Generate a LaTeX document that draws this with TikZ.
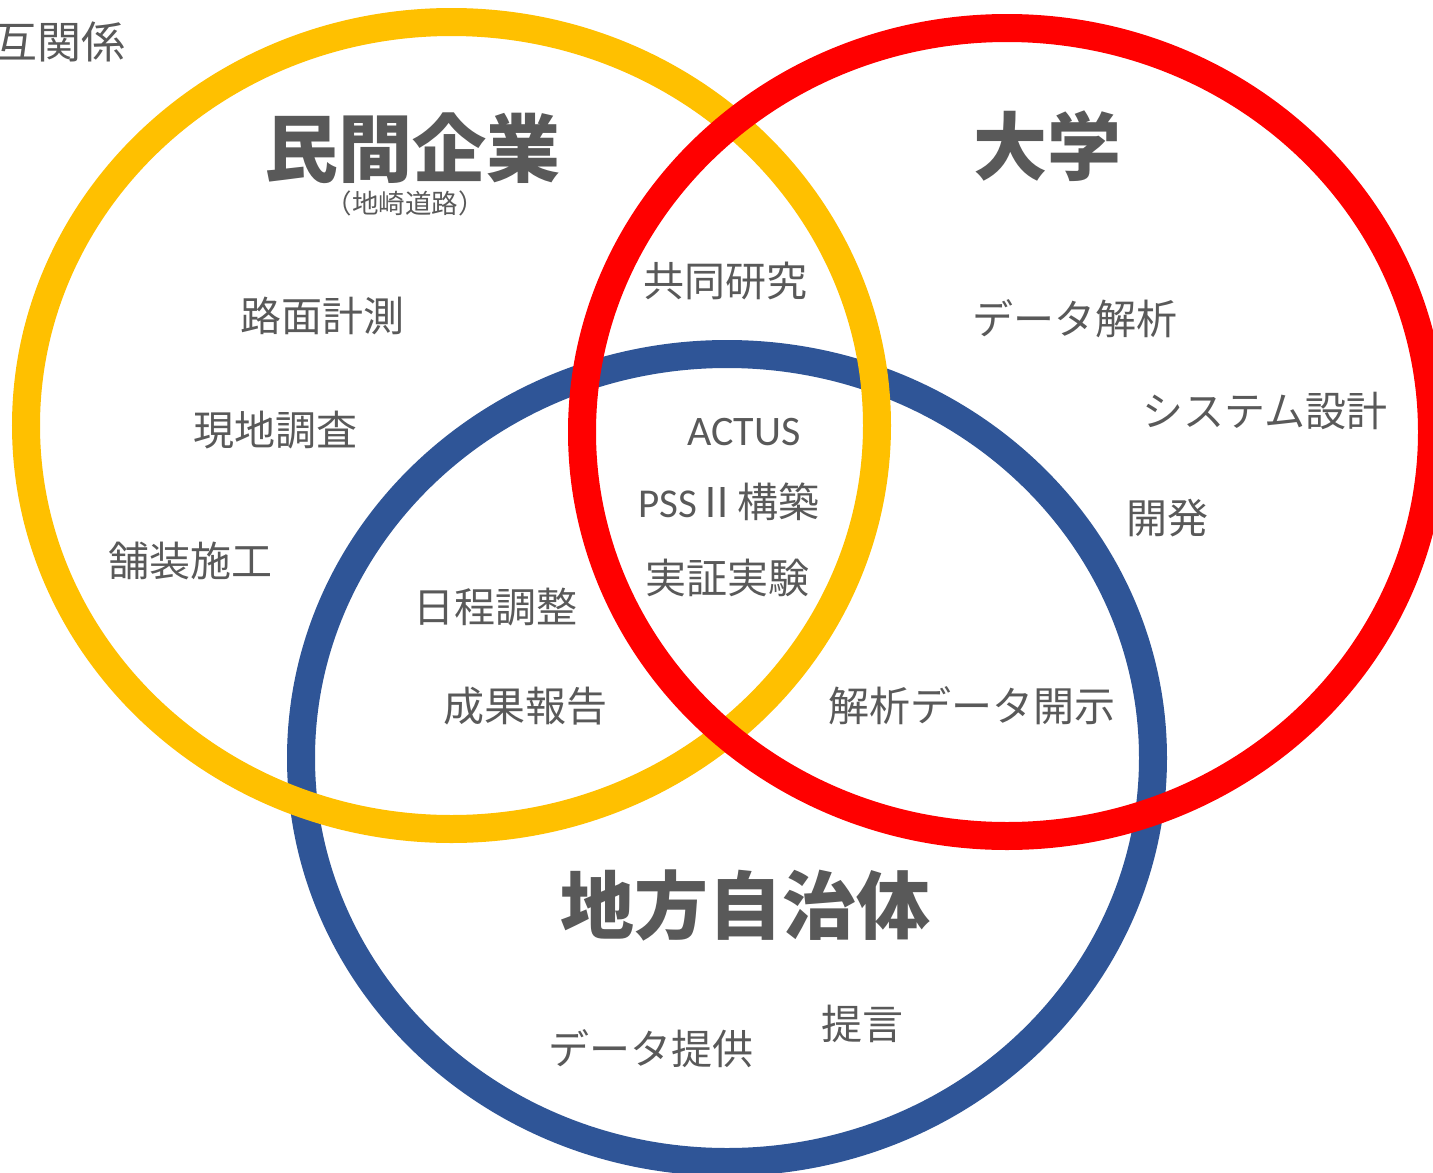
\documentclass[tikz,border=0pt]{standalone}
\usepackage{fontspec}
\setmainfont{Noto Sans CJK JP}
\newfontfamily\latfont{Carlito}
\definecolor{cyellow}{HTML}{FFC000}
\definecolor{cred}{HTML}{FF0000}
\definecolor{cblue}{HTML}{2F5597}
\definecolor{ctext}{HTML}{595959}
\begin{document}
\begin{tikzpicture}[x=1pt,y=-1pt,
  ring/.style={line width=28pt},
  title/.style={text=ctext,inner sep=0pt,font=\fontsize{74}{80}\selectfont\bfseries},
  body/.style={text=ctext,inner sep=0pt,font=\fontsize{41}{46}\selectfont},
  small/.style={text=ctext,inner sep=0pt,font=\fontsize{26.5}{30}\selectfont}]
\useasboundingbox (0,0) rectangle (1433,1173);
\clip (0,0) rectangle (1433,1173);
\fill[white] (0,0) rectangle (1433,1173);
% rings: blue lowest, yellow, red on top
\draw[ring,cblue] (727,758) ellipse [x radius=426, y radius=404];
\draw[ring,cyellow] (451.5,425.5) ellipse [x radius=425.5, y radius=403.5];
\draw[ring,cred] (1007,432) ellipse [x radius=425, y radius=404];
% labels
\node[body,font=\fontsize{44}{48}\selectfont,anchor=east] (rel) at (126,42) {互関係};
\node[title] (company) at (412,148) {民間企業};
\node[small] (chizaki) at (405,203) {（地崎道路）};
\node[title] (univ) at (1047,146) {大学};
\node[title] (local) at (745,905) {地方自治体};
\node[body] (t1) at (322,316) {路面計測};
\node[body] (t2) at (275,430) {現地調査};
\node[body] (t3) at (190,561) {舗装施工};
\node[body] (t4) at (725,281) {共同研究};
\node[body] (t5) at (1075,319) {データ解析};
\node[body] (t6) at (1265,411) {システム設計};
\node[body] (t7) at (1167,518) {開発};
\node[body,font=\fontsize{42}{46}\selectfont\latfont] (t8) at (744,432) {ACTUS};
\node[body] (t9) at (729,502) {{\latfont PSS}Ⅱ構築};
\node[body] (t10) at (727,578) {実証実験};
\node[body] (t11) at (495,607) {日程調整};
\node[body] (t12) at (525,706) {成果報告};
\node[body] (t13) at (972,706) {解析データ開示};
\node[body] (t14) at (651,1049) {データ提供};
\node[body] (t15) at (862,1024) {提言};
\end{tikzpicture}
\end{document}
